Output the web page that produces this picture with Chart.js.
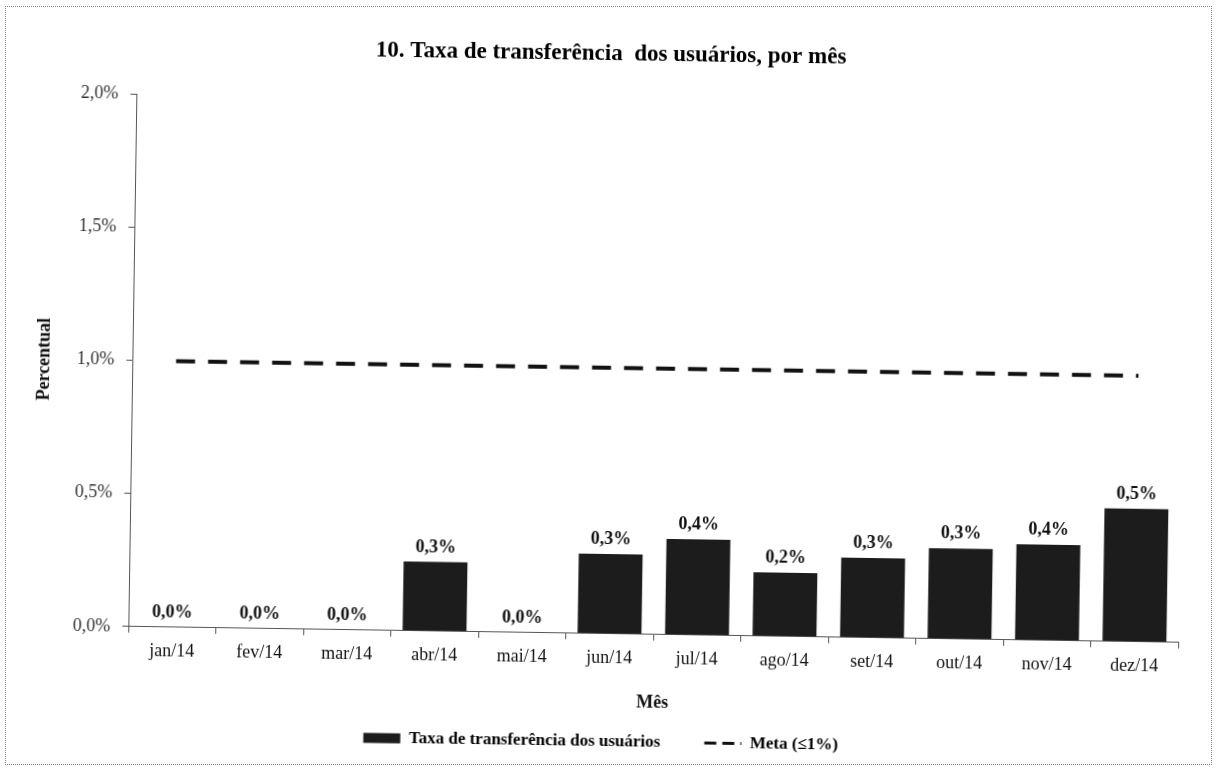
<!DOCTYPE html>
<html>
<head>
<meta charset="utf-8">
<script src="https://cdn.jsdelivr.net/npm/chart.js@4.4.1/dist/chart.umd.min.js"></script>
<style>
  html, body { margin: 0; padding: 0; background: #fff; }
  #wrap { position: relative; width: 1216px; height: 774px; overflow: hidden; }
  #frame { position: absolute; left: 5px; top: 6px; width: 1205px; height: 757px; border: 1px dotted #888; }
  /* the scanned page is slightly tilted */
  #taxaCanvas { position: absolute; left: 0; top: 0; transform: rotate(0.87deg); }
</style>
</head>
<body>
<div id="wrap">
  <div id="frame"></div>
  <canvas id="taxaCanvas" width="1216" height="774"></canvas>
</div>
<script>
const meses = ['jan/14', 'fev/14', 'mar/14', 'abr/14', 'mai/14', 'jun/14',
               'jul/14', 'ago/14', 'set/14', 'out/14', 'nov/14', 'dez/14'];
const taxaTransferencia = [0, 0, 0, 0.26, 0, 0.30, 0.36, 0.24, 0.30, 0.34, 0.36, 0.50];
const metaValores = [1, 1, 1, 1, 1, 1, 1, 1, 1, 1, 1, 1];
const yMin = 0;
const yMax = 2;
const yStep = 0.5;

const tituloGrafico = '10. Taxa de transferência  dos usuários, por mês';
const tituloX = 'Mês';
const tituloY = 'Percentual';
const legendaBarra = 'Taxa de transferência dos usuários';
const legendaMeta = 'Meta (≤1%)';

const serif = "'Liberation Serif', 'Times New Roman', serif";
Chart.defaults.font.family = serif;
Chart.defaults.color = '#111';

const fmtPct = (v) => v.toFixed(1).replace('.', ',') + '%';

// rótulos de valor em cima das barras
const rotulosBarras = {
    id: 'rotulosBarras',
    afterDatasetsDraw(chart) {
        const ctx = chart.ctx;
        const meta = chart.getDatasetMeta(1);
        ctx.save();
        ctx.font = 'bold 18px ' + serif;
        ctx.fillStyle = '#111';
        ctx.textAlign = 'center';
        ctx.textBaseline = 'alphabetic';
        meta.data.forEach((bar, i) => {
            ctx.fillText(fmtPct(taxaTransferencia[i]), bar.x, bar.y - 10);
        });
        ctx.restore();
    }
};

new Chart('taxaCanvas', {
    data: {
        labels: meses,
        datasets: [
            {
                type: 'line',
                label: legendaMeta,
                data: metaValores,
                borderColor: '#111',
                borderWidth: 4,
                borderDash: [19, 13],
                pointRadius: 0,
                fill: false,
                order: 1
            },
            {
                type: 'bar',
                label: legendaBarra,
                data: taxaTransferencia,
                backgroundColor: '#1c1c1c',
                borderWidth: 0,
                categoryPercentage: 1,
                barPercentage: 0.73,
                order: 2
            }
        ]
    },
    options: {
        responsive: false,
        animation: false,
        layout: { padding: { top: 7, left: 30, right: 34, bottom: 14 } },
        plugins: {
            tooltip: { enabled: false },
            title: {
                display: true,
                text: tituloGrafico,
                color: '#000',
                font: { size: 23, weight: 'bold' },
                padding: { top: 33, bottom: 34 }
            },
            legend: {
                position: 'bottom',
                labels: {
                    usePointStyle: true,
                    pointStyleWidth: 37,
                    boxHeight: 10,
                    padding: 10,
                    color: '#111',
                    font: { size: 17, weight: 'bold' },
                    generateLabels: () => [
                        {
                            text: legendaBarra + '        ',
                            fillStyle: '#1c1c1c',
                            strokeStyle: '#1c1c1c',
                            lineWidth: 0,
                            pointStyle: 'rect',
                            datasetIndex: 1
                        },
                        {
                            text: legendaMeta,
                            fillStyle: '#111',
                            strokeStyle: '#111',
                            lineWidth: 3,
                            lineDash: [12, 6],
                            pointStyle: 'line',
                            datasetIndex: 0
                        }
                    ]
                }
            }
        },
        scales: {
            x: {
                grid: { drawOnChartArea: false, tickLength: 6, color: '#555' },
                border: { color: '#555', width: 1, dash: [3, 1] },
                ticks: {
                    color: '#111',
                    font: { size: 18 },
                    padding: 8,
                    maxRotation: 0,
                    autoSkip: false
                },
                title: {
                    display: true,
                    text: tituloX,
                    color: '#111',
                    font: { size: 18, weight: 'bold' },
                    padding: { top: 14, bottom: 10 }
                }
            },
            y: {
                min: yMin,
                max: yMax,
                afterFit: (scale) => { scale.width = 102; },
                grid: { drawOnChartArea: false, tickLength: 6, color: '#555' },
                border: { color: '#555', width: 1, dash: [3, 1] },
                ticks: {
                    stepSize: yStep,
                    color: '#333',
                    font: { size: 18 },
                    padding: 12,
                    callback: (v) => fmtPct(v)
                },
                title: {
                    display: true,
                    text: tituloY,
                    color: '#111',
                    font: { size: 18, weight: 'bold' },
                    padding: { top: 4, bottom: 4 }
                }
            }
        }
    },
    plugins: [rotulosBarras]
});
</script>
</body>
</html>
